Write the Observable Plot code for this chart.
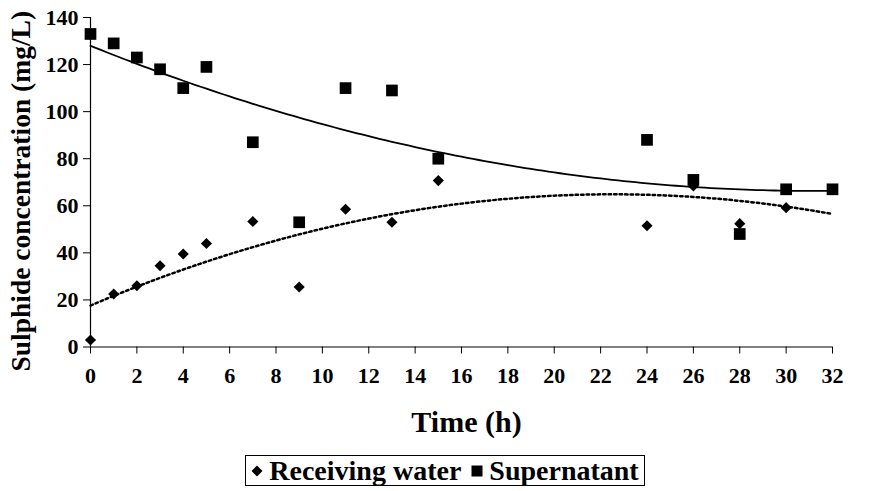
<!DOCTYPE html>
<html>
<head>
<meta charset="utf-8">
<script src="https://cdn.jsdelivr.net/npm/d3@7"></script>
<script src="https://cdn.jsdelivr.net/npm/@observablehq/plot@0.6"></script>
<style>
  body { margin: 0; background: #fff; }
  #chart { width: 885px; height: 450px; }
  #legend {
    margin: 5px 0 0 245px;
    width: 398px;
    height: 29px;
    border: 1px solid #000;
    display: flex;
    align-items: center;
    justify-content: center;
    gap: 10px;
    font-family: "Liberation Serif", "Times New Roman", serif;
    font-weight: bold;
    font-size: 28px;
    line-height: 1;
    color: #000;
  }
  #legend svg { display: block; }
  #legend .item { display: flex; align-items: center; gap: 6px; }
</style>
</head>
<body>
<div id="chart"></div>
<script>
// Sampling times (h)
const hours = [0, 1, 2, 3, 4, 5, 7, 9, 11, 13, 15, 24, 26, 28, 30, 32];
// Sulphide concentration (mg/L)
const receivingWater = [3, 22.5, 26, 34.5, 39.5, 44, 53.3, 25.5, 58.5, 53, 70.7, 51.5, 68.4, 52.4, 59.2, 67];
const supernatant = [133, 129, 123, 118, 110, 119, 87, 53, 110, 109, 80, 88, 71, 48, 67, 67];
// Axis ticks
const xTicks = [0, 2, 4, 6, 8, 10, 12, 14, 16, 18, 20, 22, 24, 26, 28, 30, 32];
const yTicks = [0, 20, 40, 60, 80, 100, 120, 140];
const seriesNames = ["Receiving water", "Supernatant"];

const recvData = hours.map((h, i) => ({h, c: receivingWater[i]}));
const superData = hours.map((h, i) => ({h, c: supernatant[i]}));

// Second-order polynomial least-squares trendline
function quadFit(xs, ys) {
  const S = [0, 0, 0, 0, 0], T = [0, 0, 0];
  xs.forEach((x, i) => {
    for (let k = 0; k < 5; k++) S[k] += x ** k;
    for (let k = 0; k < 3; k++) T[k] += ys[i] * x ** k;
  });
  const M = [[S[0], S[1], S[2], T[0]], [S[1], S[2], S[3], T[1]], [S[2], S[3], S[4], T[2]]];
  for (let i = 0; i < 3; i++) {
    for (let j = i + 1; j < 3; j++) {
      const f = M[j][i] / M[i][i];
      for (let k = i; k < 4; k++) M[j][k] -= f * M[i][k];
    }
  }
  const c = [0, 0, 0];
  for (let i = 2; i >= 0; i--) {
    let s = M[i][3];
    for (let k = i + 1; k < 3; k++) s -= M[i][k] * c[k];
    c[i] = s / M[i][i];
  }
  return x => c[0] + c[1] * x + c[2] * x * x;
}
const trendRange = d3.range(0, 32.001, 0.25);
const fRecv = quadFit(hours, receivingWater);
const fSuper = quadFit(hours, supernatant);
const recvTrend = trendRange.map(h => ({h, c: fRecv(h)}));
const superTrend = trendRange.map(h => ({h, c: fSuper(h)}));

const font = '"Liberation Serif", "Times New Roman", serif';

const chart = Plot.plot({
  width: 885,
  height: 450,
  marginLeft: 90,
  marginRight: 53,
  marginTop: 17,
  marginBottom: 103.5,
  x: {domain: [0, 32]},
  y: {domain: [0, 140]},
  style: {fontFamily: font, fontSize: "22px", fontWeight: "bold", color: "#000", background: "#fff", overflow: "visible"},
  marks: [
    Plot.axisY({ticks: yTicks, tickSize: 7, tickPadding: 5, label: null, stroke: "#000", strokeOpacity: 1}),
    Plot.axisX({ticks: xTicks, tickSize: 7, tickPadding: 13, label: null, stroke: "#000", strokeOpacity: 1}),
    Plot.ruleX([0], {stroke: "#000", strokeWidth: 1.2}),
    Plot.ruleY([0], {stroke: "#000", strokeWidth: 1.2}),
    Plot.line(superTrend, {x: "h", y: "c", stroke: "#000", strokeWidth: 1.8}),
    Plot.line(recvTrend, {x: "h", y: "c", stroke: "#000", strokeWidth: 2.5, strokeDasharray: "2.5,3"}),
    Plot.dot(recvData, {x: "h", y: "c", symbol: "diamond2", r: 5, fill: "#000", stroke: "none"}),
    Plot.dot(superData, {x: "h", y: "c", symbol: "square", r: 6.6, fill: "#000", stroke: "none"}),
    Plot.text(["Time (h)"], {frameAnchor: "bottom", dx: 5, dy: 85, fontSize: 30, fill: "#000"}),
    Plot.text(["Sulphide concentration (mg/L)"], {frameAnchor: "left", textAnchor: "middle", rotate: -90, dx: -69, dy: 9, fontSize: 27.5, fill: "#000"})
  ]
});
document.getElementById("chart").append(chart);

// Legend below the plot
const legend = document.createElement("div");
legend.id = "legend";
const shapes = [
  '<svg width="12" height="12" viewBox="-6 -6 12 12"><path d="M0,-5.5L5.5,0L0,5.5L-5.5,0Z" fill="#000"/></svg>',
  '<svg width="12" height="12" viewBox="-6 -6 12 12"><rect x="-5.5" y="-5.5" width="11" height="11" fill="#000"/></svg>'
];
seriesNames.forEach((name, i) => {
  const item = document.createElement("span");
  item.className = "item";
  item.innerHTML = shapes[i] + "<span>" + name + "</span>";
  legend.append(item);
});
document.body.append(legend);
</script>
</body>
</html>
